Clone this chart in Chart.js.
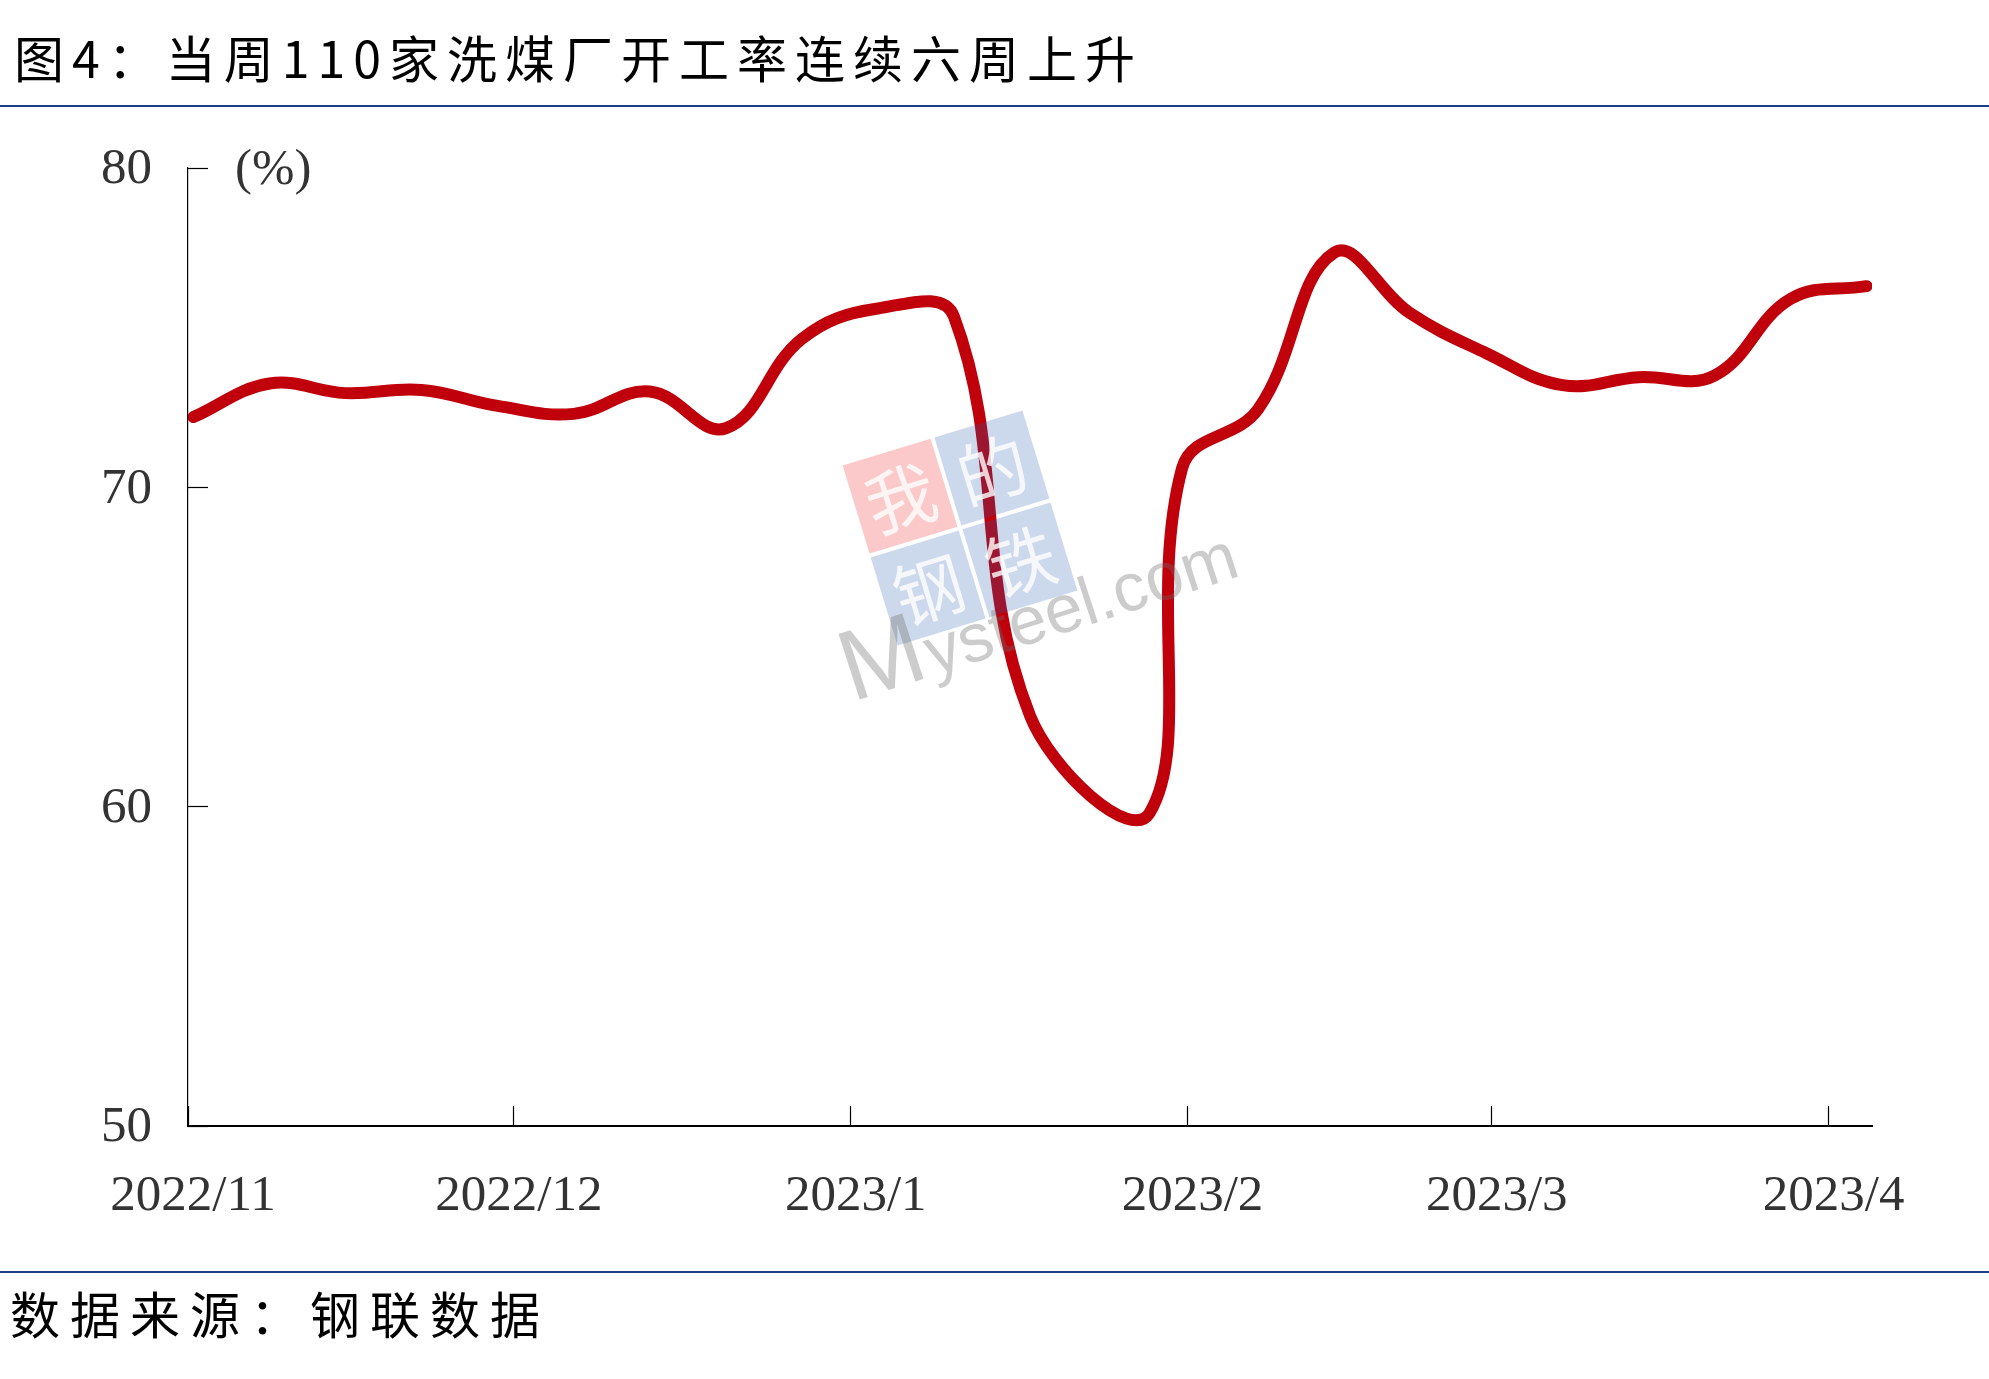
<!DOCTYPE html>
<html>
<head>
<meta charset="utf-8">
<script src="https://cdn.jsdelivr.net/npm/chart.js@4.4.1/dist/chart.umd.min.js"></script>
<style>
  html, body { margin: 0; padding: 0; background: #fff; }
  #page { position: relative; width: 1989px; height: 1379px; overflow: hidden; }
  .cn { position: absolute; font-family: "Noto Sans CJK SC", sans-serif; font-size: 50px; color: #000; white-space: nowrap; line-height: 60px; }
  #title { left: 14px; top: 26px; letter-spacing: 8px; }
  #source { left: 10px; top: 1282px; letter-spacing: 10px; }
  .rule { position: absolute; left: 0; width: 1989px; height: 2px; background: #1F3C88; }
  #chartBox { position: absolute; left: 0; top: 0; width: 1989px; height: 1379px; }
</style>
</head>
<body>
<div id="page">
  <div id="title" class="cn">图4：当周110家洗煤厂开工率连续六周上升</div>
  <div class="rule" style="top:105px"></div>
  <div id="chartBox"><canvas id="washChart"></canvas></div>
  <div class="rule" style="top:1271px"></div>
  <div id="source" class="cn">数据来源：钢联数据</div>
</div>
<script>
// axis starts on this day, everything on x is counted in days from here
const axisStart = '2022-11-01';
const axisEnd = '2023-04-05';

// weekly survey dates (the holiday week came out on the Sat 1/28 make-up workday)
const surveyDates = [
  '2022-11-01', '2022-11-08', '2022-11-15', '2022-11-22', '2022-11-29',
  '2022-12-06', '2022-12-13', '2022-12-20', '2022-12-27',
  '2023-01-03', '2023-01-10', '2023-01-17', '2023-01-28', '2023-01-31',
  '2023-02-07', '2023-02-14', '2023-02-21', '2023-02-28',
  '2023-03-07', '2023-03-14', '2023-03-21', '2023-03-28', '2023-04-04'
];

// 110 washing plants utilization rate, %
const utilization = [
  72.2, 73.25, 72.95, 73.05, 72.55,
  72.3, 73.0, 71.85, 74.65,
  75.6, 75.35, 62.85, 59.8, 70.6,
  72.45, 77.35, 75.45, 74.2,
  73.2, 73.45, 73.5, 75.9, 76.3
];

const monthTicks = ['2022-11-01', '2022-12-01', '2023-01-01', '2023-02-01', '2023-03-01', '2023-04-01'];
const monthLabels = ['2022/11', '2022/12', '2023/1', '2023/2', '2023/3', '2023/4'];
const yTicks = [50, 60, 70, 80];

const dayNo = d => (Date.parse(d + 'T00:00:00Z') - Date.parse(axisStart + 'T00:00:00Z')) / 864e5;

// points sit mid-day like in the source sheet
const points = surveyDates.map((d, i) => ({ x: dayNo(d) + 0.5, y: utilization[i] }));

const serif = '"Liberation Serif", "Times New Roman", serif';

// "(%)" unit next to the top tick plus the faded site watermark
const extrasPlugin = {
  id: 'extras',
  afterDatasetsDraw(chart) {
    const ctx = chart.ctx;
    const yScale = chart.scales.y;
    ctx.save();
    ctx.fillStyle = '#333';
    ctx.font = '51px ' + serif;
    ctx.textAlign = 'left';
    ctx.textBaseline = 'middle';
    ctx.fillText('(%)', chart.chartArea.left + 47, yScale.getPixelForValue(80) + 3);
    ctx.restore();

    // watermark
    ctx.save();
    ctx.translate(960, 528);
    ctx.rotate(-17 * Math.PI / 180);
    const tiles = [
      { t: '我', x: -48, y: -48, c: 'rgba(240,60,60,0.28)' },
      { t: '的', x: 48, y: -48, c: 'rgba(40,90,170,0.24)' },
      { t: '钢', x: -48, y: 48, c: 'rgba(40,90,170,0.24)' },
      { t: '铁', x: 48, y: 48, c: 'rgba(40,90,170,0.24)' }
    ];
    ctx.textAlign = 'center';
    ctx.textBaseline = 'middle';
    ctx.font = '70px "Noto Sans CJK SC"';
    tiles.forEach(tl => {
      ctx.fillStyle = tl.c;
      ctx.fillRect(tl.x - 46, tl.y - 46, 92, 92);
      ctx.fillStyle = 'rgba(255,255,255,0.8)';
      ctx.fillText(tl.t, tl.x, tl.y + 2);
    });
    ctx.restore();

    ctx.save();
    ctx.translate(852, 702);
    ctx.rotate(-18 * Math.PI / 180);
    ctx.fillStyle = 'rgba(110,110,110,0.35)';
    ctx.textBaseline = 'alphabetic';
    ctx.font = '100px "Liberation Sans", Arial, sans-serif';
    ctx.fillText('M', 0, 0);
    const mw = ctx.measureText('M').width;
    ctx.font = '68px "Liberation Sans", Arial, sans-serif';
    ctx.fillText('ysteel.com', mw + 2, 0);
    ctx.restore();
  }
};

const ctx = document.getElementById('washChart').getContext('2d');

const washChart = new Chart(ctx, {
  type: 'line',
  data: {
    datasets: [{
      label: '开工率',
      data: points,
      borderColor: '#C0000B',
      borderWidth: 12,
      borderCapStyle: 'round',
      borderJoinStyle: 'round',
      pointRadius: 0,
      tension: 0.4,
      fill: false
    }]
  },
  options: {
    responsive: true,
    maintainAspectRatio: false,
    devicePixelRatio: 1,
    animation: false,
    layout: {
      padding: { left: 0, top: 168, right: 117, bottom: 103 }
    },
    plugins: {
      legend: { display: false },
      tooltip: { enabled: false }
    },
    scales: {
      x: {
        type: 'linear',
        min: 0,
        max: dayNo(axisEnd),
        afterBuildTicks: scale => {
          scale.ticks = monthTicks.map(d => ({ value: dayNo(d) }));
        },
        afterFit: scale => {
          scale.height = 150;
          scale.paddingLeft = 0;
          scale.paddingRight = 0;
        },
        border: { display: true, color: '#000', width: 2 },
        grid: {
          drawOnChartArea: false,
          drawTicks: true,
          tickLength: -20,
          tickColor: '#000',
          tickWidth: 1.2
        },
        ticks: {
          autoSkip: false,
          maxRotation: 0,
          padding: 60,
          labelOffset: 5,
          color: '#333',
          font: { family: serif, size: 51 },
          callback: (value, index) => monthLabels[index]
        }
      },
      y: {
        min: 50,
        max: 80,
        afterBuildTicks: scale => {
          scale.ticks = yTicks.map(v => ({ value: v }));
        },
        afterFit: scale => {
          scale.width = 188;
          scale.paddingTop = 0;
          scale.paddingBottom = 0;
        },
        border: { display: true, color: '#000', width: 1.2 },
        grid: {
          drawOnChartArea: false,
          drawTicks: true,
          tickLength: -20,
          tickColor: '#000',
          tickWidth: 1.2
        },
        ticks: {
          padding: 56,
          labelOffset: 2,
          color: '#333',
          font: { family: serif, size: 51 }
        }
      }
    }
  },
  plugins: [extrasPlugin]
});
</script>
</body>
</html>
